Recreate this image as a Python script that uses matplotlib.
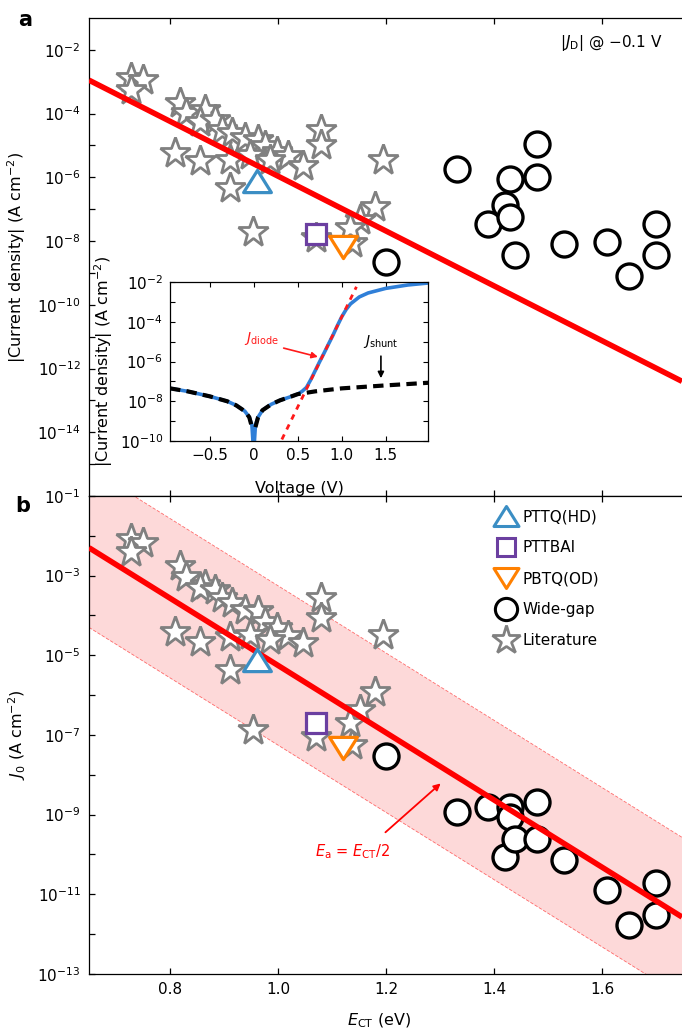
import numpy as np
import matplotlib
matplotlib.use('Agg')
import matplotlib.pyplot as plt
from matplotlib.lines import Line2D
from matplotlib.path import Path
from matplotlib.ticker import NullFormatter

plt.rcParams['font.family'] = ['DejaVu Sans']
plt.rcParams['mathtext.fontset'] = 'dejavusans'

# ---------------- data ----------------
# Literature (stars): E_CT (eV), log10 |J_D| at -0.1 V, log10 J0
lit_E = [0.728, 0.750, 0.728, 0.819, 0.830, 0.865, 0.856, 0.883, 0.896, 0.915,
         0.939, 0.963, 0.976, 0.998, 1.019, 1.046, 0.809, 0.856, 0.911, 0.911,
         0.948, 0.985, 1.080, 1.080, 1.194, 1.180, 1.152, 0.954, 1.070, 1.137, 1.133]
lit_logJD = [-2.88, -2.95, -3.26, -3.67, -3.98, -3.89, -4.26, -4.20, -4.51, -4.61,
             -4.77, -4.83, -5.02, -5.20, -5.33, -5.64, -5.24, -5.49, -5.46, -6.33,
             -5.30, -5.46, -4.51, -4.99, -5.46, -6.93, -7.34, -7.71, -7.90, -8.06, -7.59]
lit_logJ0 = [-2.08, -2.18, -2.41, -2.76, -3.03, -3.23, -3.31, -3.36, -3.56, -3.69,
             -3.86, -3.89, -4.16, -4.31, -4.51, -4.69, -4.41, -4.67, -4.54, -5.37,
             -4.49, -4.62, -3.56, -4.06, -4.49, -5.92, -6.37, -6.88, -7.05, -7.25, -6.70]

# Wide-gap (circles)
wg_E = [1.20, 1.331, 1.389, 1.42, 1.43, 1.43, 1.439, 1.479, 1.479, 1.53, 1.61, 1.65, 1.70, 1.70]
wg_logJD = [-8.65, -5.75, -7.46, -6.87, -6.06, -7.25, -8.44, -4.95, -6.00, -8.09, -8.02, -9.10, -7.47, -8.44]
wg_logJ0 = [-7.53, -8.93, -8.80, -10.06, -8.80, -9.05, -9.60, -8.68, -9.60, -10.14, -10.89, -11.77, -10.72, -11.52]

# This work
pttq_E, pttq_logJD, pttq_logJ0 = [0.961], [-6.11], [-5.12]
pttbai_E, pttbai_logJD, pttbai_logJ0 = [1.071], [-7.78], [-6.69]
pbtq_E, pbtq_logJD, pbtq_logJ0 = [1.120], [-8.18], [-7.33]

# Fits (E_a = E_CT/2) and +/- band (decades)
fit_E = [0.65, 1.748]
fit_logJD = [-2.95, -12.40]
fit_logJ0 = [-2.30, -11.57]
band_dec = 2.0

# Inset: J-V curve
iv_V = [-0.95, -0.75, -0.5, -0.3, -0.2, -0.1, -0.05, -0.02, 0.0, 0.02, 0.05, 0.1, 0.2,
        0.3, 0.4, 0.5, 0.55, 0.6, 0.65, 0.7, 0.75, 0.8, 0.85, 0.9, 0.95, 1.0, 1.05,
        1.1, 1.2, 1.3, 1.5, 1.75, 1.98]
iv_logJ = [-7.35, -7.5, -7.75, -8.0, -8.2, -8.5, -8.8, -9.2, -10.6, -9.2, -8.8, -8.45, -8.15,
           -7.95, -7.8, -7.64, -7.5, -7.3, -6.9, -6.45, -6.0, -5.57, -5.12, -4.68, -4.2, -3.75, -3.38,
           -3.1, -2.75, -2.55, -2.32, -2.15, -2.05]
sh_V_neg = [-0.95, -0.75, -0.5, -0.3, -0.2, -0.1, -0.05, -0.02]
sh_logJ_neg = [-7.35, -7.5, -7.75, -8.0, -8.2, -8.5, -8.8, -9.3]
sh_V_pos = [0.02, 0.05, 0.1, 0.2, 0.3, 0.4, 0.5, 0.7, 1.0, 1.5, 1.98]
sh_logJ_pos = [-9.3, -8.8, -8.45, -8.15, -7.95, -7.8, -7.64, -7.5, -7.35, -7.2, -7.07]
di_V = [0.32, 1.167]
di_logJ = [-9.92, -2.24]

# ---------------- styles ----------------
STAR_EC = '#808080'
BLUE = '#3b8ec4'
PURPLE = '#6b3fa0'
ORANGE = '#ff8000'
RED = '#ff0000'

tri_up = Path([(-1, -0.8), (1, -0.8), (0, 0.8), (-1, -0.8)], closed=True)
tri_dn = Path([(-1, 0.8), (1, 0.8), (0, -0.8), (-1, 0.8)], closed=True)

def p10(a):
    return 10.0 ** np.asarray(a, dtype=float)

fig = plt.figure(figsize=(6.82, 10.30), dpi=100)
axa = fig.add_axes([0.1305, 0.5184, 0.8695, 0.4641])
axb = fig.add_axes([0.1305, 0.0544, 0.8695, 0.4641])

def style_main(ax, ylo, yhi, major_exps, minor_exps):
    ax.set_yscale('log')
    ax.set_xlim(0.65, 1.748)
    ax.set_ylim(10.0 ** ylo, 10.0 ** yhi)
    ax.set_yticks([10.0 ** k for k in major_exps])
    ax.set_yticklabels([r'$10^{%d}$' % k for k in major_exps])
    ax.set_yticks([10.0 ** k for k in minor_exps], minor=True)
    ax.yaxis.set_minor_formatter(NullFormatter())
    ax.set_xticks([0.8, 1.0, 1.2, 1.4, 1.6])
    ax.tick_params(which='both', direction='in', top=True, right=False,
                   length=4, width=0.9, labelsize=11, pad=6)
    ax.spines['right'].set_visible(False)
    for s in ['left', 'top', 'bottom']:
        ax.spines[s].set_linewidth(0.9)

style_main(axa, -16, -1, list(range(-14, -1, 2)), list(range(-15, -1, 2)))
style_main(axb, -13, -1, list(range(-13, 0, 2)), list(range(-12, -1, 2)))
axa.set_xticklabels([])
axb.set_xticklabels(['0.8', '1.0', '1.2', '1.4', '1.6'])

def draw_points(ax, logJ_lit, logJ_wg, l_pttq, l_pttbai, l_pbtq, fit):
    ax.plot(lit_E, p10(logJ_lit), ls='none', marker='*', ms=23, mfc='white',
            mec=STAR_EC, mew=2, zorder=3)
    ax.plot(wg_E, p10(logJ_wg), ls='none', marker='o', ms=18, mfc='white',
            mec='black', mew=2.4, zorder=3.5)
    ax.plot(fit_E, p10(fit), color=RED, lw=4, zorder=4, solid_capstyle='butt')
    ax.plot(pttq_E, p10(l_pttq), ls='none', marker=tri_up, ms=20, mfc='white',
            mec=BLUE, mew=2.3, zorder=5)
    ax.plot(pttbai_E, p10(l_pttbai), ls='none', marker='s', ms=14, mfc='white',
            mec=PURPLE, mew=2.3, zorder=5)
    ax.plot(pbtq_E, p10(l_pbtq), ls='none', marker=tri_dn, ms=20, mfc='white',
            mec=ORANGE, mew=2.3, zorder=5)

draw_points(axa, lit_logJD, wg_logJD, pttq_logJD, pttbai_logJD, pbtq_logJD, fit_logJD)

# band in panel b
fit_hi = np.asarray(fit_logJ0) + band_dec
fit_lo = np.asarray(fit_logJ0) - band_dec
axb.fill_between(fit_E, p10(fit_lo), p10(fit_hi), color='#fdd9d9', lw=0, zorder=0)
axb.plot(fit_E, p10(fit_hi), color='#ff6a6a', lw=0.6, ls=(0, (4, 2)), zorder=1)
axb.plot(fit_E, p10(fit_lo), color='#ff6a6a', lw=0.6, ls=(0, (4, 2)), zorder=1)
draw_points(axb, lit_logJ0, wg_logJ0, pttq_logJ0, pttbai_logJ0, pbtq_logJ0, fit_logJ0)

# labels
axa.set_ylabel(r'|Current density| (A cm$^{-2}$)', fontsize=11.5)
axa.yaxis.set_label_coords(-0.103, 0.5)
axb.set_ylabel(r'$J_0$ (A cm$^{-2}$)', fontsize=11.5)
axb.yaxis.set_label_coords(-0.103, 0.5)
axb.set_xlabel(r'$E_{\mathrm{CT}}$ (eV)', fontsize=11.5)
axb.xaxis.set_label_coords(0.49, -0.078)

axa.text(0.968, 0.948, r'$|J_{\mathrm{D}}|$ @ −0.1 V', transform=axa.transAxes,
         ha='right', va='center', fontsize=11)

fig.text(0.037, 0.981, 'a', fontsize=15, fontweight='bold', ha='center', va='center')
fig.text(0.033, 0.509, 'b', fontsize=15, fontweight='bold', ha='center', va='center')

axb.annotate('', xy=(1.305, 10 ** -8.17), xytext=(1.195, 10 ** -9.49),
             arrowprops=dict(arrowstyle='-|>', color=RED, lw=1.3, mutation_scale=10),
             zorder=6)
axb.text(1.137, 10 ** -9.94, r'$E_{\mathrm{a}}$ = $E_{\mathrm{CT}}$/2', color=RED,
         fontsize=10.5, ha='center', va='center')

# legend
handles = [
    Line2D([], [], ls='none', marker=tri_up, ms=18, mfc='white', mec=BLUE, mew=2.2, label='PTTQ(HD)'),
    Line2D([], [], ls='none', marker='s', ms=13, mfc='white', mec=PURPLE, mew=2.2, label='PTTBAI'),
    Line2D([], [], ls='none', marker=tri_dn, ms=18, mfc='white', mec=ORANGE, mew=2.2, label='PBTQ(OD)'),
    Line2D([], [], ls='none', marker='o', ms=16, mfc='white', mec='black', mew=2.2, label='Wide-gap'),
    Line2D([], [], ls='none', marker='*', ms=21, mfc='white', mec=STAR_EC, mew=2, label='Literature'),
]
axb.legend(handles=handles, loc='upper left', bbox_to_anchor=(0.672, 0.985), frameon=False,
           fontsize=11, labelspacing=1.05, handletextpad=0.3, handlelength=1.6,
           borderaxespad=0)

# ---------------- inset ----------------
axi = fig.add_axes([0.2493, 0.5718, 0.3783, 0.1544])
axi.set_yscale('log')
axi.set_xlim(-0.95, 1.98)
axi.set_ylim(1e-10, 1e-2)
iexp = [-10, -8, -6, -4, -2]
axi.set_yticks([10.0 ** k for k in iexp])
axi.set_yticklabels([r'$10^{%d}$' % k for k in iexp])
axi.set_yticks([10.0 ** k for k in [-9, -7, -5, -3]], minor=True)
axi.yaxis.set_minor_formatter(NullFormatter())
axi.set_xticks([-0.5, 0, 0.5, 1.0, 1.5])
axi.set_xticklabels(['−0.5', '0', '0.5', '1.0', '1.5'])
axi.tick_params(which='both', direction='in', top=True, right=True,
                length=3.5, width=0.8, labelsize=11, pad=5)
for s in axi.spines.values():
    s.set_linewidth(0.9)
axi.patch.set_facecolor('white')

axi.plot(iv_V, p10(iv_logJ), color='#2f7fd8', lw=2.6, zorder=2)
axi.plot(di_V, p10(di_logJ), color='#ff1a1a', lw=2.0, ls=(0, (2, 2)), zorder=3)
axi.plot(sh_V_neg, p10(sh_logJ_neg), color='black', lw=3.0, ls=(0, (2.5, 1.5)), zorder=4)
axi.plot(sh_V_pos, p10(sh_logJ_pos), color='black', lw=3.0, ls=(0, (2.5, 1.5)), zorder=4)

axi.set_ylabel(r'|Current density| (A cm$^{-2}$)', fontsize=11.5)
axi.yaxis.set_label_coords(-0.215, 0.5)
axi.set_xlabel('Voltage (V)', fontsize=11.5)
axi.xaxis.set_label_coords(0.5, -0.25)

axi.text(0.09, 10 ** -4.82, r'$J_{\mathrm{diode}}$', color='#ff1a1a', fontsize=10,
         ha='center', va='center')
axi.annotate('', xy=(0.76, 10 ** -5.8), xytext=(0.31, 10 ** -5.29),
             arrowprops=dict(arrowstyle='-|>', color='#ff1a1a', lw=1.2, mutation_scale=9))
axi.text(1.44, 10 ** -4.97, r'$J_{\mathrm{shunt}}$', color='black', fontsize=10,
         ha='center', va='center')
axi.annotate('', xy=(1.445, 10 ** -6.98), xytext=(1.445, 10 ** -5.59),
             arrowprops=dict(arrowstyle='-|>', color='black', lw=1.2, mutation_scale=9))

fig.savefig('out.png', dpi=100)
